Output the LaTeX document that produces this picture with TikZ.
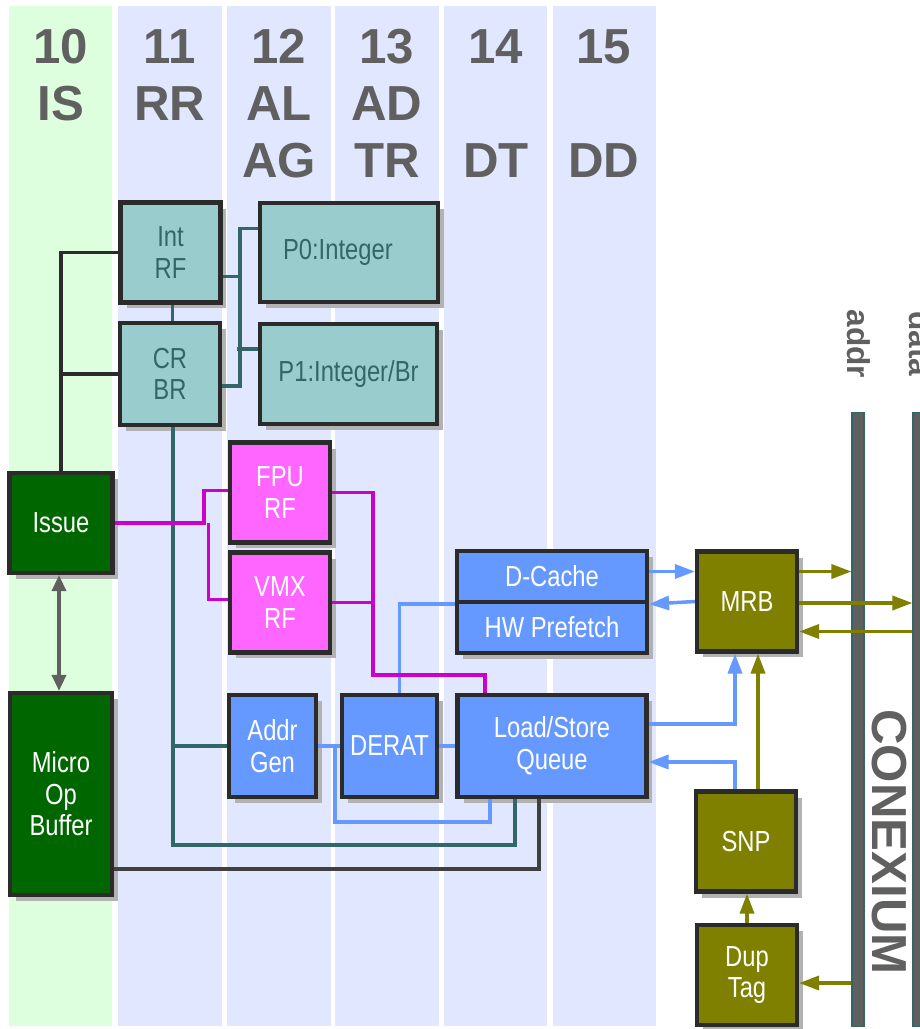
\documentclass[tikz,border=0pt]{standalone}
\usepackage{fontspec}
\setmainfont{Liberation Sans}
\newfontfamily\boxfont[FakeStretch=0.82]{Liberation Sans}
\usepackage{xcolor}
\usepackage{tikz}
\usetikzlibrary{arrows.meta,positioning,calc,shadows}
\definecolor{StageGreen}{HTML}{DDFFDD}
\definecolor{StageBlue}{HTML}{E1E7FF}
\definecolor{HeadGray}{HTML}{606060}
\definecolor{BoxLine}{HTML}{2B2B2B}
\definecolor{Shade}{HTML}{B2B2B2}
\definecolor{TealFill}{HTML}{99CCCC}
\definecolor{TealInk}{HTML}{336666}
\definecolor{MagFill}{HTML}{FF66FF}
\definecolor{MagLine}{HTML}{CC00CC}
\definecolor{BlueFill}{HTML}{6699FF}
\definecolor{IssueGreen}{HTML}{006600}
\definecolor{Olive}{HTML}{808000}
\definecolor{BusGray}{HTML}{5F5F5F}
\definecolor{WireDark}{HTML}{404040}

\begin{document}
\begin{tikzpicture}[
  x=0.02cm, y=-0.02cm,
  stage/.style={anchor=base,inner sep=0pt,font=\fontsize{28}{30}\selectfont\bfseries,text=HeadGray},
  box/.style={draw=BoxLine,line width=2.4pt,inner sep=0pt,align=center,minimum width=2cm,minimum height=2cm,
    font=\boxfont\fontsize{16.5}{18}\selectfont,text=white,
    general shadow={fill=Shade,shadow xshift=0.12cm,shadow yshift=-0.12cm}},
  tealbox/.style={box,fill=TealFill,text=TealInk},
  magbox/.style={box,fill=MagFill},
  bluebox/.style={box,fill=BlueFill},
  greenbox/.style={box,fill=IssueGreen},
  olivebox/.style={box,fill=Olive},
  bus/.style={draw=TealInk,fill=BusGray,line width=0.6pt,minimum width=0.24cm,minimum height=12.3cm,inner sep=0pt},
  buslbl/.style={rotate=-90,inner sep=0pt,font=\fontsize{18}{20}\selectfont\bfseries,text=HeadGray},
  wire/.style={line width=2pt},
  arr/.style={wire,-{Triangle[length=4mm,width=2.8mm]}}]
\useasboundingbox (0,0) rectangle (920,1029);
\clip (0,0) rectangle (920,1029);
\fill[StageGreen] (9,6) rectangle (112,1026);
\foreach \l/\r in {118/222,227/331,335/439,444/547,553/656}
  \fill[StageBlue] (\l,6) rectangle (\r,1026);
\foreach \cx/\n/\a/\b in {61/10/IS/{},170/11/RR/{},279/12/AL/AG,387/13/AD/TR,496/14/{}/DT,604/15/{}/DD}{
  \node[stage] (n\n) at (\cx,63) {\n};
  \node[stage] (a\n) at (\cx,120) {\a};
  \node[stage] (b\n) at (\cx,177) {\b};
}
\node[bus] (addrbus) at (858,719.5) {};
\node[bus] (databus) at (919,719.5) {};
\node[buslbl] (addrlbl) at (858.5,344) {addr};
\node[buslbl] (datalbl) at (921,344) {data};
\node[buslbl,font=\fontsize{28}{30}\selectfont\bfseries] (conex) at (889,842) {CONEXIUM};

\node[tealbox] (intrf) at (170.5,252.5) {Int\\RF};
\node[tealbox,minimum height=2.04cm] (crbr) at (170,374) {CR\\BR};
\node[tealbox,minimum width=3.56cm,minimum height=1.98cm,text width=2.64cm,align=left] (pzero) at (349,252.5) {P0:Integer};
\node[tealbox,minimum width=3.54cm] (pone) at (348.5,374) {P1:Integer/Br};
\node[magbox] (fpurf) at (280,492.5) {FPU\\RF};
\node[magbox] (vmxrf) at (280,602.5) {VMX\\RF};
\node[greenbox,minimum width=2.06cm] (issue) at (61,523) {Issue};
\node[greenbox,minimum width=2.04cm,minimum height=4.04cm] (mob) at (61,794) {Micro\\Op\\Buffer};
\node[bluebox,minimum width=1.74cm,minimum height=2.04cm] (addrgen) at (272.5,746) {Addr\\Gen};
\node[bluebox,minimum width=1.9cm,minimum height=2.04cm] (derat) at (389.5,746) {DERAT};
\node[bluebox,minimum width=3.78cm,minimum height=2.04cm] (lsq) at (552,746) {Load/Store\\Queue};
\node[bluebox,minimum width=3.8cm,minimum height=1.02cm] (dcache) at (552,576.5) {D-Cache};
\node[bluebox,minimum width=3.8cm,minimum height=1.02cm] (hwpf) at (552,627.5) {HW Prefetch};
\node[olivebox] (mrb) at (747,601.5) {MRB};
\node[olivebox] (snp) at (746,841.5) {SNP};
\node[olivebox] (duptag) at (747,975) {Dup\\Tag};

\draw[wire,BoxLine] (issue.north) |- (intrf.west);
\draw[wire,BoxLine] (issue.north) |- (crbr.west);
\draw[wire,TealInk] ($(intrf.south)+(2,0)$) -- ($(crbr.north)+(2.5,0)$);
\draw[wire,TealInk] ($(pzero.west)+(0,-24)$) -| ($(crbr.east)+(18,12)$) -- ($(crbr.east)+(0,12)$);
\draw[wire,TealInk] ($(intrf.east)+(0,24)$) -- ++(18,0);
\draw[wire,TealInk] ($(pone.west)+(0,-25)$) -- ++(-21,0);
\draw[wire,TealInk] ($(crbr.south)+(3,0)$) |- (addrgen.west);
\draw[wire,TealInk] ($(crbr.south)+(3,0)$) |- ($(lsq.south)+(-37,46)$) -- ($(lsq.south)+(-37,0)$);
\draw[wire,BlueFill] (addrgen.east) -- (derat.west);
\draw[wire,BlueFill] (derat.east) -- (lsq.west);
\draw[wire,BlueFill] ($(addrgen.east)+(17,0)$) |- ($(lsq.south)+(-62,23)$) -- ($(lsq.south)+(-62,0)$);
\draw[wire,BlueFill] ($(derat.north)+(10,0)$) |- (dcache.south west);
\draw[wire,MagLine] (issue.east) -| ($(fpurf.west)+(-24,-2)$) -- ($(fpurf.west)+(0,-2)$);
\draw[wire,MagLine] ($(issue.east)+(94,0)$) |- ($(vmxrf.west)+(0,-3)$);
\draw[wire,MagLine] (fpurf.east) -| ($(lsq.north)+(-179,-18)$) -| ($(lsq.north)+(-67,0)$);
\draw[wire,MagLine] (vmxrf.east) -- ++(43,0);
\draw[wire,HeadGray,{Triangle[length=3.2mm,width=2.8mm]}-{Triangle[length=3.2mm,width=2.8mm]}] ($(issue.south)+(-2,0)$) -- ($(mob.north)+(-2,0)$);
\draw[wire,WireDark] ($(mob.east)+(0,75)$) -| ($(lsq.south)+(-13,0)$);

\draw[arr,BlueFill] ($(dcache.east)+(0,-5)$) -- ($(mrb.west)+(0,-30)$);
\draw[arr,BlueFill] (mrb.west) -- (dcache.south east);
\draw[arr,BlueFill] ($(lsq.east)+(0,-22)$) -| ($(mrb.south)+(-12,0)$);
\draw[arr,BlueFill] ($(snp.north)+(-11,0)$) |- ($(lsq.east)+(0,16)$);
\draw[arr,Olive] ($(mrb.east)+(0,-30)$) -- ($(addrbus.west |- mrb.east)+(0,-30)$);
\draw[arr,Olive] ($(mrb.east)+(0,1.5)$) -- ($(databus.west |- mrb.east)+(0,1.5)$);
\draw[arr,Olive] ($(databus.west |- mrb.east)+(0,30)$) -- ($(mrb.east)+(0,30)$);
\draw[arr,Olive] ($(snp.north)+(12,0)$) -- ($(mrb.south)+(11,0)$);
\draw[arr,Olive] (duptag.north) -- (duptag.north |- snp.south);
\draw[arr,Olive] ($(addrbus.west |- duptag.east)+(0,8)$) -- ($(duptag.east)+(0,8)$);
\end{tikzpicture}
\end{document}
